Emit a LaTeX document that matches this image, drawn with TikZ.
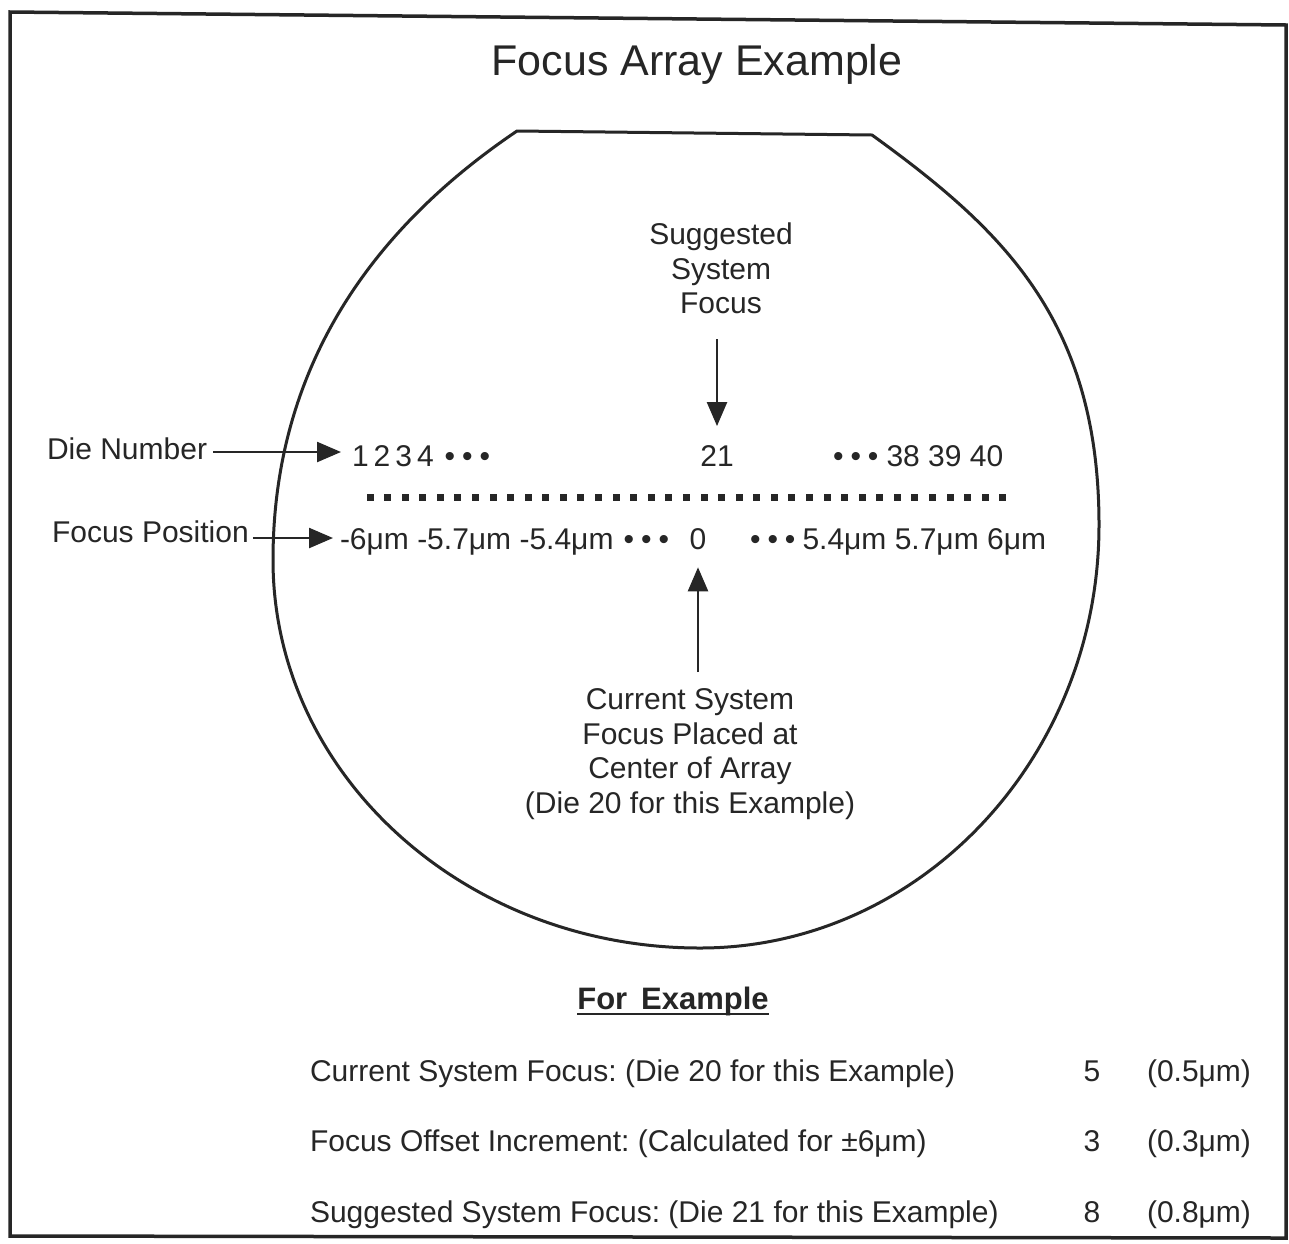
\documentclass[tikz,border=0pt]{standalone}
\usepackage{fontspec}
\setmainfont{Liberation Sans}
\usetikzlibrary{arrows.meta}
\definecolor{ink}{HTML}{262626}
\frenchspacing
\begin{document}
\begin{tikzpicture}[x=1pt,y=-1pt,
  txt/.style={inner sep=0pt, outer sep=0pt, text=ink, font=\fontsize{30}{34.5}\selectfont},
  arr/.style={line width=2.4pt, draw=ink, -{Triangle[length=24pt,width=20pt]}},
  frame/.style={line width=3.5pt, draw=ink, line join=miter},
  wafer/.style={line width=3pt, draw=ink, line join=miter},
  diesq/.style={fill=ink}
]
\useasboundingbox (0,0) rectangle (1289,1243);
\fill[white] (0,0) rectangle (1289,1243);

% outer frame
\draw[frame] (10,12) -- (1286,25) -- (1286,1238) -- (10,1236) -- cycle;

% title
\node[txt, font=\fontsize{43}{50}\selectfont, anchor=base] (title) at (697,75) {Focus Array Example};

% wafer outline
\draw[wafer] (517,131) -- (872,135)
  .. controls (1002,229) and (1099,320) .. (1099,525)
  .. controls (1099,758) and (920,948) .. (700,948)
  .. controls (464,948) and (273,774) .. (273,560)
  .. controls (273,355) and (385,220) .. (517,131) -- cycle;

% suggested system focus
\node[txt, align=center, anchor=north] (sugg) at (721,223) {Suggested\\System\\Focus};

% die number row
\node[txt, anchor=base west] (dlabel) at (47,459) {Die Number};
\node[txt, anchor=base west] (dleft) at (352,466) {1\hspace{5pt}2\hspace{5pt}3\hspace{5pt}4\hspace{11pt}•\hspace{7pt}•\hspace{7pt}•};
\node[txt, anchor=base] (d21) at (717,466) {21};
\node[txt, anchor=base west] (dright) at (833,466) {•\hspace{7pt}•\hspace{7pt}•\hspace{8pt}38 39 40};
\coordinate (dieY) at (0,452);
\draw[arr, shorten <=6pt, shorten >=11pt] (dlabel.east |- dieY) -- (dleft.west |- dieY);
\draw[arr, shorten <=25pt, shorten >=19pt] (sugg.south -| d21.north) -- (d21.north);

% die squares
\foreach \i in {0,...,36}
  \fill[diesq] ({370+\i*17.58-3.5},493.5) rectangle ++(7,7);

% focus position row
\node[txt, anchor=base west] (flabel) at (52,542) {Focus Position};
\node[txt, anchor=base west] (fleft) at (340,549) {-6μm -5.7μm -5.4μm\hspace{10pt}•\hspace{7pt}•\hspace{7pt}•};
\node[txt, anchor=base] (zero) at (698,549) {0};
\node[txt, anchor=base west] (fright) at (750,549) {•\hspace{7pt}•\hspace{7pt}•\hspace{7pt}5.4μm 5.7μm 6μm};
\coordinate (focY) at (0,538);
\draw[arr, shorten <=4pt, shorten >=7pt] (flabel.east |- focY) -- (fleft.west |- focY);

% current system focus
\node[txt, align=center, anchor=north] (curr) at (690,689) {Current System\\Focus Placed at\\Center of Array\\(Die 20 for this Example)};
\draw[arr, shorten <=17pt, shorten >=18pt] (curr.north -| zero.south) -- (zero.south);

% for example table
\node[txt, font=\bfseries\fontsize{31}{36}\selectfont, anchor=base] (forex) at (673,1009) {For\hspace{0.45em}Example};
\draw[line width=2.6pt, ink] ([yshift=-5pt]forex.base west) -- ([yshift=-5pt]forex.base east);

\node[txt, anchor=base west] (r1) at (310,1081) {Current System Focus: (Die 20 for this Example)};
\node[txt, anchor=base] (r1n) at (1092,1081) {5};
\node[txt, anchor=base west] (r1v) at (1147,1081) {(0.5μm)};

\node[txt, anchor=base west] (r2) at (310,1151) {Focus Offset Increment: (Calculated for ±6μm)};
\node[txt, anchor=base] (r2n) at (1092,1151) {3};
\node[txt, anchor=base west] (r2v) at (1147,1151) {(0.3μm)};

\node[txt, anchor=base west] (r3) at (310,1222) {Suggested System Focus: (Die 21 for this Example)};
\node[txt, anchor=base] (r3n) at (1092,1222) {8};
\node[txt, anchor=base west] (r3v) at (1147,1222) {(0.8μm)};
\end{tikzpicture}
\end{document}
